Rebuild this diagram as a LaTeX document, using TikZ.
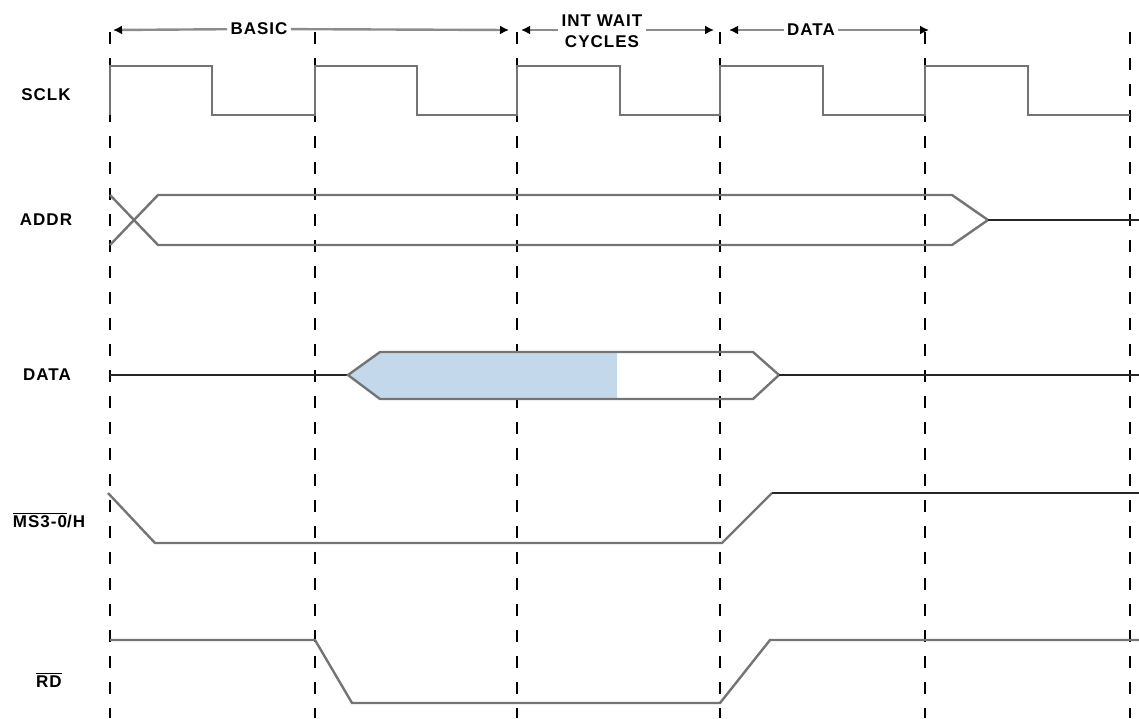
\documentclass[tikz,border=0pt]{standalone}
\usepackage{fontspec}
\setmainfont{Liberation Sans}
\newfontfamily\lblfont[LetterSpace=6]{Liberation Sans}
\usetikzlibrary{arrows.meta,positioning}
\definecolor{sigline}{HTML}{747474}
\definecolor{busfill}{HTML}{C3D9EB}

\begin{document}
\begin{tikzpicture}[
  x=0.5pt,y=-0.5pt,
  lbl/.style={font=\lblfont\bfseries\fontsize{8.5}{9.5}\selectfont,inner sep=1pt},
  span/.style={font=\lblfont\bfseries\fontsize{8.5}{10.5}\selectfont,fill=white,align=center,inner sep=1.5pt},
  sig/.style={sigline,line width=1.2pt,line join=miter},
  lvl/.style={black!85,line width=1.2pt},
  grid/.style={black,line width=1.4pt,dash pattern=on 6pt off 7pt},
  dimarr/.style={black!45,line width=1.2pt,-{Latex[length=4.5pt,width=4.5pt,black]}}
]
\useasboundingbox (0,0) rectangle (1139,718);
% ---------- cycle boundaries ----------
\draw[grid] (110,32) -- (110,718);
\draw[grid] (315,32) -- (315,718);
\draw[grid] (517,32) -- (517,718);
\draw[grid] (720,32) -- (720,718);
\draw[grid] (925,32) -- (925,718);
\draw[grid] (1130,32) -- (1130,718);
% ---------- spans on top ----------
\node[span] (basic) at (259,29) {BASIC};
\node[span] (intwait) at (602,31) {INT WAIT\\CYCLES};
\node[span] (dataspan) at (811,30) {DATA};
\coordinate (b0) at (113,30);
\coordinate (b1) at (509,30);
\coordinate (w0) at (521,30);
\coordinate (w1) at (714,30);
\coordinate (d0) at (729,30);
\coordinate (d1) at (929,30);
\draw[dimarr] (basic) -- (b0);
\draw[dimarr] (basic) -- (b1);
\draw[dimarr] (intwait.west|-w0) -- (w0);
\draw[dimarr] (intwait.east|-w1) -- (w1);
\draw[dimarr] (dataspan) -- (d0);
\draw[dimarr] (dataspan) -- (d1);
% ---------- signal names ----------
\node[lbl] (sclk) at (46,95) {SCLK};
\node[lbl] (addr) at (46,220) {ADDR};
\node[lbl] (data) at (47,375) {DATA};
\node[lbl] (mst) at (49,520) {$\overline{\mbox{MS3-0}}$/H};
\node[lbl] (rd) at (49,680) {$\overline{\mbox{RD}}$};
% ---------- SCLK ----------
\draw[sig] (110,115) -- (110,66) -- (212,66) -- (212,115) -- (315,115)
  -- (315,66) -- (417,66) -- (417,115) -- (517,115)
  -- (517,66) -- (620,66) -- (620,115) -- (720,115)
  -- (720,66) -- (823,66) -- (823,115) -- (925,115)
  -- (925,66) -- (1028,66) -- (1028,115) -- (1130,115);
% ---------- ADDR ----------
\draw[sig] (110,195) -- (158,245) -- (952,245) -- (988,220);
\draw[sig] (110,245) -- (158,195) -- (952,195) -- (988,220);
\draw[lvl] (988,220) -- (1139,220);
% ---------- DATA ----------
\draw[lvl] (110,375) -- (348,375);
\fill[busfill] (348,375) -- (380,352) -- (617,352) -- (617,399) -- (380,399) -- cycle;
\draw[sig] (348,375) -- (380,352) -- (753,352) -- (779,375) -- (753,399) -- (380,399) -- cycle;
\draw[lvl] (779,375) -- (1139,375);
% ---------- MS / RD strobes ----------
\draw[sig] (108,493) -- (155,543) -- (722,543) -- (772,493);
\draw[lvl] (772,493) -- (1139,493);
\draw[sig] (110,640) -- (315,640) -- (352,703) -- (720,703) -- (770,640) -- (1139,640);
\end{tikzpicture}
\end{document}
